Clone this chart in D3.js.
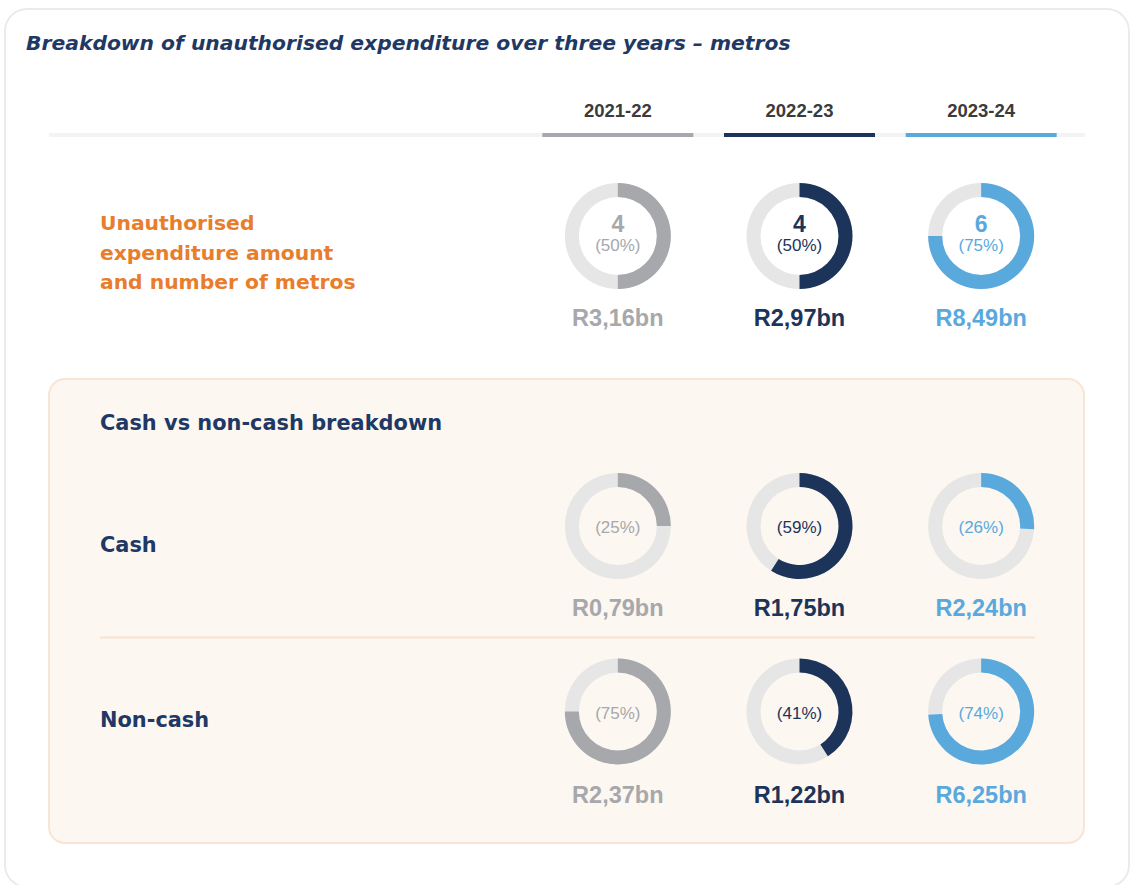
<!DOCTYPE html>
<html>
<head>
<meta charset="utf-8">
<script src="https://cdn.jsdelivr.net/npm/d3@7"></script>
<style>
  html, body { margin: 0; padding: 0; background: #ffffff; }
  svg { display: block; font-family: "DejaVu Sans", sans-serif; }
  .num { font-family: "Liberation Sans", Arial, sans-serif; }
</style>
</head>
<body>
<svg id="chart" width="1132" height="885"></svg>
<script>
// Financial years shown as columns
const years = ["2021-22", "2022-23", "2023-24"];
const yearColors = ["#a7a8ab", "#1c3459", "#5aa9dd"];

// Metros with unauthorised expenditure (out of 8) and share of metros
const metroCounts = [4, 4, 6];
const metroShare = [50, 50, 75];
const totalAmounts = [3.16, 2.97, 8.49];   // R billion

// Cash vs non-cash split
const cashAmounts = [0.79, 1.75, 2.24];
const cashShare = [25, 59, 26];
const nonCashAmounts = [2.37, 1.22, 6.25];
const nonCashShare = [75, 41, 74];

const navy = "#1f3864";
const orange = "#e87d2c";
const track = "#e6e6e6";

const svg = d3.select("#chart");

// Outer card
svg.append("rect")
  .attr("x", 5).attr("y", 9).attr("width", 1124).attr("height", 878)
  .attr("rx", 22).attr("fill", "#ffffff")
  .attr("stroke", "#ebebeb").attr("stroke-width", 2);

// Title
svg.append("text")
  .attr("x", 26).attr("y", 50)
  .attr("fill", navy)
  .attr("font-size", 20.3).attr("font-weight", "bold").attr("font-style", "italic")
  .text("Breakdown of unauthorised expenditure over three years \u2013 metros");

// Column scale
const x = d3.scaleBand().domain(years).range([527, 1072]);
const cx = d => x(d) + x.bandwidth() / 2;

// Header rule and year labels
svg.append("rect")
  .attr("x", 49).attr("y", 133).attr("width", 1036).attr("height", 4)
  .attr("fill", "#f3f3f3");

const barW = 151;
svg.selectAll("rect.yearbar").data(years).join("rect")
  .attr("class", "yearbar")
  .attr("x", d => cx(d) - barW / 2).attr("y", 133)
  .attr("width", barW).attr("height", 4)
  .attr("fill", (d, i) => yearColors[i]);

svg.selectAll("text.year").data(years).join("text")
  .attr("class", "year num")
  .attr("x", d => cx(d)).attr("y", 117)
  .attr("text-anchor", "middle")
  .attr("fill", "#3b3b3b").attr("font-size", 18.5).attr("font-weight", "bold")
  .text(d => d);

// Left label of the first row
const lbl = svg.append("text")
  .attr("x", 100).attr("y", 230)
  .attr("fill", orange).attr("font-size", 20.3).attr("font-weight", "bold");
["Unauthorised", "expenditure amount", "and number of metros"].forEach((t, i) => {
  lbl.append("tspan").attr("x", 100).attr("dy", i === 0 ? 0 : 29.5).text(t);
});

// Breakdown panel
svg.append("rect")
  .attr("x", 49).attr("y", 379).attr("width", 1035).attr("height", 464)
  .attr("rx", 16).attr("fill", "#fcf7f1")
  .attr("stroke", "#f9e5d5").attr("stroke-width", 2);

svg.append("line")
  .attr("x1", 100).attr("x2", 1035).attr("y1", 637.5).attr("y2", 637.5)
  .attr("stroke", "#f9e2cf").attr("stroke-width", 2);

svg.append("text")
  .attr("x", 100).attr("y", 430)
  .attr("fill", navy).attr("font-size", 20.9).attr("font-weight", "bold")
  .text("Cash vs non-cash breakdown");

svg.append("text")
  .attr("x", 100).attr("y", 552)
  .attr("fill", navy).attr("font-size", 20.9).attr("font-weight", "bold")
  .text("Cash");

svg.append("text")
  .attr("x", 100).attr("y", 727)
  .attr("fill", navy).attr("font-size", 20.9).attr("font-weight", "bold")
  .text("Non-cash");

// Donut helpers
const angle = d3.scaleLinear().domain([0, 100]).range([0, 2 * Math.PI]);
const rOuter = 53, rInner = 39;
const arc = d3.arc().innerRadius(rInner).outerRadius(rOuter).startAngle(0);
const fmtBn = v => "R" + d3.format(".2f")(v).replace(".", ",") + "bn";

function donutRow(cy, shares, amounts, counts, amountY) {
  const g = svg.append("g");
  const cells = g.selectAll("g.cell").data(years).join("g")
    .attr("class", "cell")
    .attr("transform", d => `translate(${cx(d)},${cy})`);

  cells.append("path")
    .attr("d", arc({ endAngle: angle(100) }))
    .attr("fill", track);

  cells.append("path")
    .attr("d", (d, i) => arc({ endAngle: angle(shares[i]) }))
    .attr("fill", (d, i) => yearColors[i]);

  if (counts) {
    cells.append("text")
      .attr("class", "num")
      .attr("y", -4).attr("text-anchor", "middle")
      .attr("font-size", 23).attr("font-weight", "bold")
      .attr("fill", (d, i) => yearColors[i])
      .text((d, i) => counts[i]);
  }
  cells.append("text")
    .attr("class", "num")
    .attr("y", counts ? 15 : 7).attr("text-anchor", "middle")
    .attr("font-size", 17)
    .attr("fill", (d, i) => yearColors[i])
    .text((d, i) => `(${shares[i]}%)`);

  g.selectAll("text.amount").data(years).join("text")
    .attr("class", "amount num")
    .attr("x", d => cx(d)).attr("y", amountY)
    .attr("text-anchor", "middle")
    .attr("font-size", 23.5).attr("font-weight", "bold")
    .attr("fill", (d, i) => yearColors[i])
    .text((d, i) => fmtBn(amounts[i]));
}

donutRow(236, metroShare, totalAmounts, metroCounts, 326);
donutRow(526, cashShare, cashAmounts, null, 616);
donutRow(711.5, nonCashShare, nonCashAmounts, null, 803);
</script>
</body>
</html>
